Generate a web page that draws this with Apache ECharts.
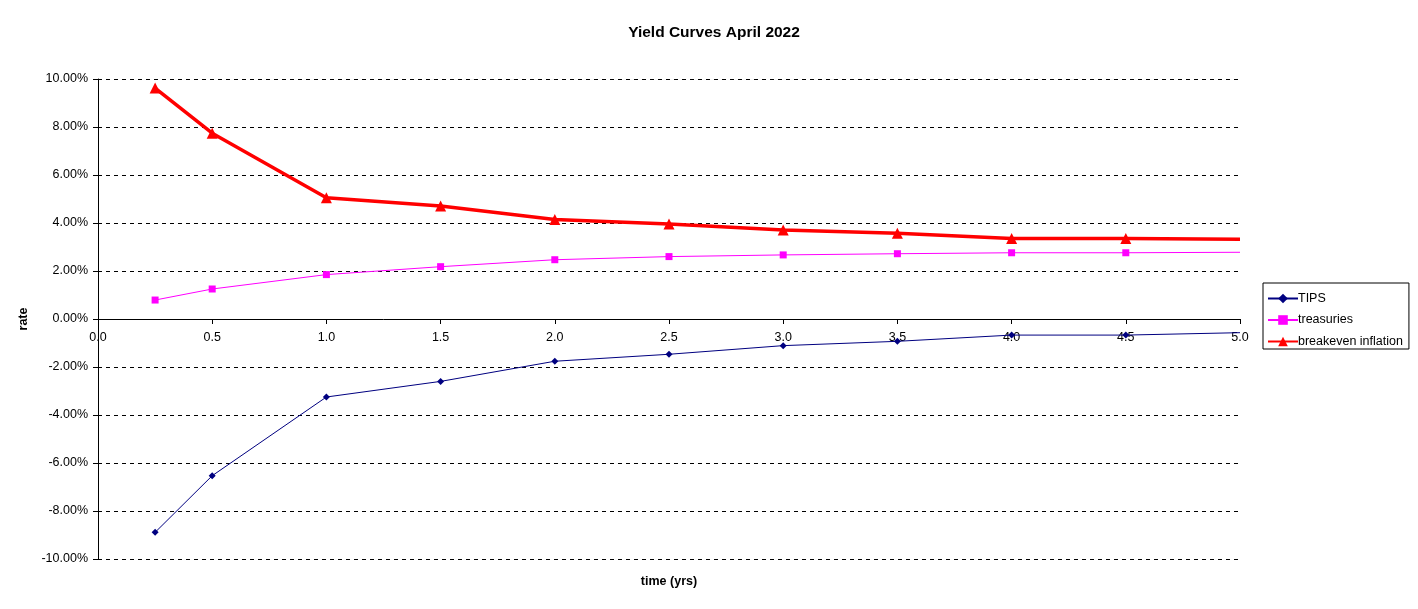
<!DOCTYPE html>
<html>
<head>
<meta charset="utf-8">
<script src="https://cdn.jsdelivr.net/npm/echarts@6/dist/echarts.min.js"></script>
<style>
html,body{margin:0;padding:0;background:#fff;}
#chart{width:1418px;height:609px;}
</style>
</head>
<body>
<div id="chart"></div>
<script>
const times = [0.25, 0.5, 1.0, 1.5, 2.0, 2.5, 3.0, 3.5, 4.0, 4.5, 5.0];
const tips = [-8.89, -6.53, -3.25, -2.60, -1.76, -1.47, -1.11, -0.93, -0.67, -0.67, -0.57];
const treasuries = [0.79, 1.25, 1.85, 2.18, 2.47, 2.60, 2.67, 2.72, 2.76, 2.76, 2.78];
const breakeven = [9.62, 7.74, 5.05, 4.71, 4.15, 3.96, 3.71, 3.57, 3.35, 3.35, 3.32];
const seriesNames = ['TIPS', 'treasuries', 'breakeven inflation'];

const FONT = '"Liberation Sans", Arial, sans-serif';
function pts(vals){
  return times.map((t,i)=>{
    const d = {value:[t, vals[i]]};
    if (t === 5.0) d.symbol = 'none';
    return d;
  });
}
const chart = echarts.init(document.getElementById('chart'), null, {renderer:'canvas'});
chart.setOption({
  animation:false,
  backgroundColor:'#fff',
  title:{text:'Yield Curves April 2022', left:709, top:20, textAlign:'center',
    textStyle:{fontFamily:FONT, fontSize:15.5, fontWeight:'bold', color:'#000'}},
  grid:{left:98, right:178, top:79, bottom:50, containLabel:false, outerBoundsMode:'none'},
  legend:{
    orient:'vertical', left:1263, top:283,
    padding:[9,6,1,4], itemGap:8.5, itemWidth:30, itemHeight:12,
    borderColor:'#000', borderWidth:1, borderRadius:0,
    textStyle:{fontFamily:FONT, fontSize:12.5, color:'#000', padding:[0,0,0,-5]},
    data:seriesNames
  },
  xAxis:{
    type:'value', min:0, max:5, interval:0.5, position:'bottom', offset:-240,
    name:'time (yrs)', nameLocation:'middle', nameGap:256,
    nameTextStyle:{fontFamily:FONT, fontSize:12.5, fontWeight:'bold', color:'#000'},
    axisLine:{onZero:false, lineStyle:{color:'#000', width:1}},
    axisTick:{show:true, length:5, lineStyle:{color:'#000'}},
    axisLabel:{fontFamily:FONT, fontSize:12.5, color:'#000', margin:12,
      formatter:v=>v.toFixed(1)},
    splitLine:{show:false}
  },
  yAxis:{
    type:'value', min:-10, max:10, interval:2,
    name:'rate', nameLocation:'middle', nameGap:64, nameRotate:90,
    nameTextStyle:{fontFamily:FONT, fontSize:12.5, fontWeight:'bold', color:'#000'},
    axisLine:{show:true, onZero:false, lineStyle:{color:'#000', width:1}},
    axisTick:{show:true, length:5, lineStyle:{color:'#000'}},
    axisLabel:{fontFamily:FONT, fontSize:12.5, color:'#000', margin:10,
      formatter:v=>v.toFixed(2)+'%'},
    splitLine:{show:true, lineStyle:{color:'#000', type:[4,4], width:1}}
  },
  series:[
    {name:seriesNames[0], type:'line', data:pts(tips), symbol:'diamond', symbolSize:7,
      itemStyle:{color:'#000080'}, lineStyle:{color:'#000080', width:1}},
    {name:seriesNames[1], type:'line', data:pts(treasuries), symbol:'rect', symbolSize:7,
      itemStyle:{color:'#FF00FF'}, lineStyle:{color:'#FF00FF', width:1}},
    {name:seriesNames[2], type:'line', data:pts(breakeven), symbol:'triangle', symbolSize:11,
      itemStyle:{color:'#FF0000'}, lineStyle:{color:'#FF0000', width:3.5}}
  ]
});
</script>
</body>
</html>
